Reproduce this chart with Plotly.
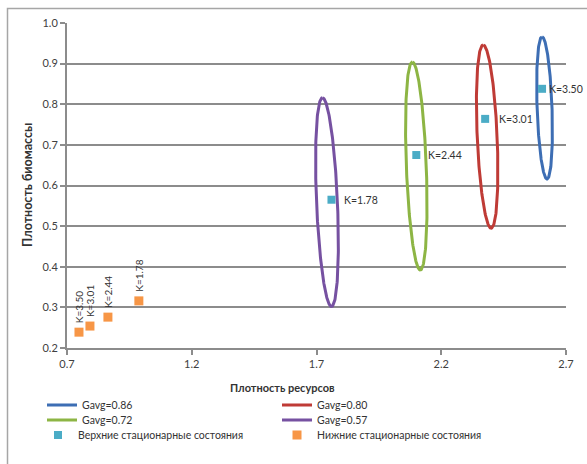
import numpy as np
import plotly.graph_objects as go

# ---- data ----
gavg_labels = ["Gavg=0.86", "Gavg=0.80", "Gavg=0.72", "Gavg=0.57"]
ell_top_x = [2.604, 2.368, 2.084, 1.724]
ell_top_y = [0.966, 0.946, 0.904, 0.816]
ell_bot_x = [2.624, 2.400, 2.116, 1.760]
ell_bot_y = [0.616, 0.495, 0.392, 0.302]
ell_half_w = [0.030, 0.040, 0.040, 0.042]

upper_x = [1.76, 2.10, 2.376, 2.604]
upper_y = [0.565, 0.675, 0.764, 0.838]
upper_labels = ["K=1.78", "K=2.44", "K=3.01", "K=3.50"]

lower_x = [0.748, 0.792, 0.864, 0.988]
lower_y = [0.239, 0.254, 0.276, 0.316]
lower_labels = ["K=3.50", "K=3.01", "K=2.44", "K=1.78"]

x_ticks = [0.7, 1.2, 1.7, 2.2, 2.7]
y_ticks = [0.2, 0.3, 0.4, 0.5, 0.6, 0.7, 0.8, 0.9, 1.0]

# ---- style ----
ell_colors = ["#3D6EB4", "#BF3B36", "#8DB544", "#7651A1"]
teal = "#4BACC6"
orange = "#F79646"
grid = "#8C8C8C"
txt = "#404040"
FONT = "Lato"
# one legend per entry, placed in pixel positions (x of legend, y of row centre)
legend_names = ["legend", "legend2", "legend3", "legend4", "legend5", "legend6"]
legend_px = [(42, 405), (277, 405), (42, 420), (277, 420), (38, 435), (277, 435)]

fig = go.Figure()

t = np.linspace(0, 2 * np.pi, 240)
for i, (lab, tx, ty, bx, by, hw, col) in enumerate(zip(
        gavg_labels, ell_top_x, ell_top_y, ell_bot_x, ell_bot_y, ell_half_w, ell_colors)):
    cx, cy = (tx + bx) / 2, (ty + by) / 2
    ax, ay = (tx - bx) / 2, (ty - by) / 2
    fig.add_trace(go.Scatter(
        x=cx + ax * np.cos(t) + hw * np.sin(t),
        y=cy + ay * np.cos(t),
        mode="lines", name=lab, legend=legend_names[i],
        line=dict(color=col, width=3), hoverinfo="skip"))

fig.add_trace(go.Scatter(
    x=upper_x, y=upper_y, mode="markers", name="Верхние стационарные состояния",
    legend=legend_names[4], marker=dict(symbol="square", size=8, color=teal)))
fig.add_trace(go.Scatter(
    x=lower_x, y=lower_y, mode="markers", name="Нижние стационарные состояния",
    legend=legend_names[5], marker=dict(symbol="square", size=9, color=orange)))

upper_shift = [7, 6, 8, 1]
for xv, yv, lab, sh in zip(upper_x, upper_y, upper_labels, upper_shift):
    fig.add_annotation(x=xv, y=yv, text=lab, showarrow=False, xanchor="left",
                       yanchor="middle", xshift=sh + 4,
                       font=dict(family=FONT, size=10.5, color="#333333"))
for xv, yv, lab in zip(lower_x, lower_y, lower_labels):
    fig.add_annotation(x=xv, y=yv, text=lab, showarrow=False, textangle=-90,
                       xanchor="center", yanchor="bottom", yshift=7,
                       font=dict(family=FONT, size=10, color="#333333"))

# axis titles
fig.add_annotation(x=(282 - 67) / 499, y=(348 - 387) / 325, xref="paper", yref="paper",
                   text="<b>Плотность ресурсов</b>", showarrow=False,
                   xanchor="center", yanchor="middle",
                   font=dict(family=FONT, size=11, color="#333333"))
fig.add_annotation(x=(27 - 67) / 499, y=(348 - 185) / 325, xref="paper", yref="paper",
                   text="<b>Плотность биомассы</b>", showarrow=False, textangle=-90,
                   xanchor="center", yanchor="middle",
                   font=dict(family=FONT, size=12.5, color="#333333"))

# outer chart border
fig.add_shape(type="rect", xref="paper", yref="paper",
              x0=(7.5 - 67) / 499, x1=(620 - 67) / 499,
              y0=(348 - 500) / 325, y1=(348 - 8.5) / 325,
              line=dict(color="#A6A6A6", width=1.5), fillcolor="rgba(0,0,0,0)",
              layer="below")

fig.update_xaxes(range=[0.7, 2.7], tickvals=x_ticks, ticktext=[f"{v:.1f}" for v in x_ticks],
                 showgrid=False, zeroline=False, showline=True, linecolor=grid, linewidth=2,
                 ticks="outside", ticklen=5, tickwidth=1.5, tickcolor=grid,
                 tickfont=dict(family=FONT, size=11, color=txt))
fig.update_yaxes(range=[0.2, 1.0], tickvals=y_ticks, ticktext=[f"{v:.1f}" for v in y_ticks],
                 showgrid=True, gridcolor=grid, gridwidth=2, zeroline=False,
                 showline=True, linecolor=grid, linewidth=2,
                 ticks="outside", ticklen=5, tickwidth=1.5, tickcolor=grid,
                 tickfont=dict(family=FONT, size=11, color=txt))

legends = {}
for name, (px, py) in zip(legend_names, legend_px):
    legends[name] = dict(orientation="h", xanchor="left", yanchor="middle",
                         x=(px - 67) / 499, y=(348 - py) / 325,
                         font=dict(family=FONT, size=10.5, color="#333333"),
                         bgcolor="rgba(0,0,0,0)", itemwidth=30)

fig.update_layout(
    width=587, height=464,
    margin=dict(l=67, r=21, t=23, b=116),
    paper_bgcolor="white", plot_bgcolor="white",
    font=dict(family=FONT, color=txt),
    showlegend=True,
    **legends,
)

fig.write_html("out.html")
